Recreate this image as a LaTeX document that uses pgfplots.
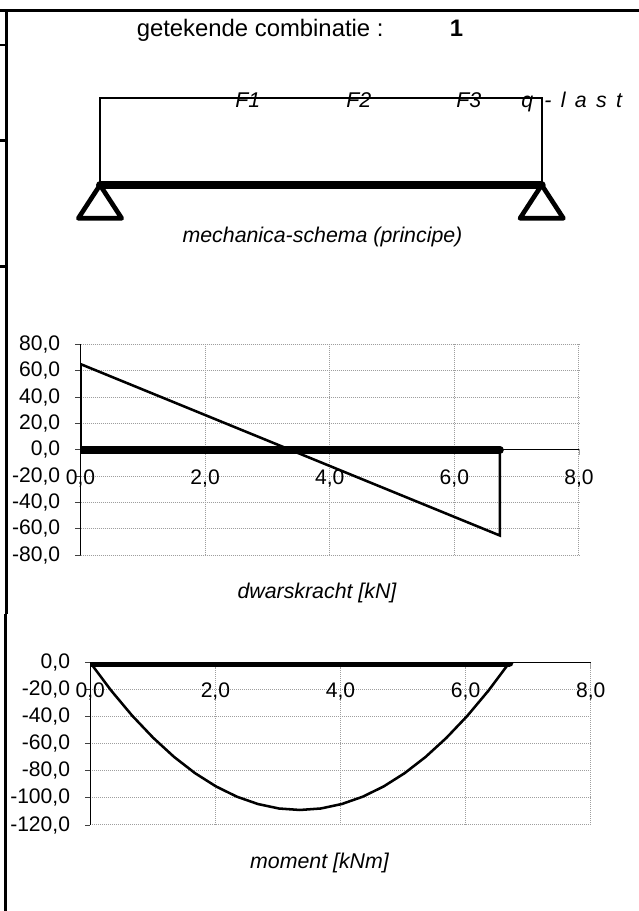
\documentclass[border=0pt]{standalone}
\usepackage{pgfplots}
\pgfplotsset{compat=1.18}
\usepackage{fontspec}
\setmainfont{Liberation Sans}
\definecolor{gridc}{gray}{0.62}
\newcommand{\lab}{\fontsize{16}{18}\selectfont}
\pgfplotsset{
  chart/.style={
    scale only axis, clip=true,
    axis x line=middle, axis y line=left,
    axis line style={black, line width=0.9pt, -},
    hide obscured x ticks=false, hide obscured y ticks=false,
    tick align=outside,
    major tick length=3.9pt,
    tick style={draw=black!75, line width=0.7pt},
    xtick style={draw=gridc, line width=0.7pt},
    grid=major,
    grid style={gridc, line width=0.75pt, dash pattern=on 0.75pt off 0.75pt},
    xtick={0,2,4,6,8},
    /pgf/number format/.cd, fixed, fixed zerofill, precision=1, use comma, assume math mode=true,
    /pgfplots/.cd,
    tick label style={font=\fontsize{15.8}{17}\selectfont},
    xticklabel style={anchor=north, yshift=-7.5pt},
    yticklabel style={anchor=east, xshift=-7.8pt},
  }
}
\begin{document}
\begin{tikzpicture}
\useasboundingbox (0pt,0pt) rectangle (479.25pt,683.25pt);
% full canvas in pixel coordinates: frame and mechanica schema
\begin{axis}[name=canvas, at={(0pt,0pt)}, anchor=south west,
  scale only axis, width=479.25pt, height=683.25pt,
  xmin=0, xmax=639, ymin=0, ymax=911, y dir=reverse,
  hide axis, clip=false]
\addplot[black, line width=2.25pt] coordinates {(0,10.8) (639,10.8)};
\addplot[black, line width=2.25pt] coordinates {(6.5,10) (6.5,614)};
\addplot[black, line width=2.25pt] coordinates {(5.8,614) (5.8,911)};
\addplot[black, line width=1.9pt] coordinates {(0,45.2) (6,45.2)};
\addplot[black, line width=1.9pt] coordinates {(0,140.3) (6,140.3)};
\addplot[black, line width=1.9pt] coordinates {(0,266.7) (6,266.7)};
% schema
\addplot[black, line width=1.5pt] coordinates {(100,185) (100,98) (541.7,98) (541.7,185)};
\addplot[black, line width=6pt, line cap=round] coordinates {(100,185.3) (541.7,185.3)};
\addplot[black, line width=3.5pt, line join=round, line cap=round] coordinates {(100,185) (78.3,218.3) (121.7,218.3) (100,185)};
\addplot[black, line width=3.5pt, line join=round, line cap=round] coordinates {(541.7,185) (520,218.3) (563.4,218.3) (541.7,185)};
\node[font=\fontsize{17.9}{20}\selectfont, anchor=base west, inner sep=0pt] at (axis cs:136.5,36.7) {getekende combinatie :};
\node[font=\fontsize{17.9}{20}\selectfont\bfseries, anchor=base west, inner sep=0pt] at (axis cs:449.5,36.7) {1};
\node[font=\lab\itshape, anchor=base west, inner sep=0pt] at (axis cs:235,107) {F1};
\node[font=\lab\itshape, anchor=base west, inner sep=0pt] at (axis cs:346,107) {F2};
\node[font=\lab\itshape, anchor=base west, inner sep=0pt] at (axis cs:456,107) {F3};
\node[font=\lab\itshape, anchor=base west, inner sep=0pt] at (axis cs:521,107) {q};
\node[font=\lab\itshape, anchor=base west, inner sep=0pt] at (axis cs:544,107) {\spaceskip=7.05pt - l a s t};
\node[font=\lab\itshape, anchor=base] at (axis cs:322.5,242.7) {mechanica-schema (principe)};
\node[font=\lab\itshape, anchor=base] at (axis cs:317,598) {dwarskracht [kN]};
\node[font=\lab\itshape, anchor=base] at (axis cs:319.5,868) {moment [kNm]};
\end{axis}
% shear diagram: x 80.5..579, y 344.3..555.3 px
\begin{axis}[chart, at={(60.375pt,266.775pt)}, anchor=south west,
  width=373.875pt, height=158.25pt,
  xmin=0, xmax=8, ymin=-80, ymax=80,
  ytick={-80,-60,...,80}]
\addplot[black, line width=1.9pt] coordinates {(0,0) (0,65) (6.73,-65) (6.73,0)};
\addplot[black, line width=6pt, line cap=round] coordinates {(0,0) (6.73,0)};
\end{axis}
% moment diagram: x 90.3..590.7, y 662.7..825 px
\begin{axis}[chart, at={(67.725pt,64.5pt)}, anchor=south west,
  width=375.3pt, height=121.75pt,
  xmin=0, xmax=8, ymin=-120, ymax=0,
  ytick={-120,-100,...,0}]
\addplot[black, line width=1.9pt] coordinates {(0,0) (0.335,-20.7) (0.67,-39.2) (1.005,-55.5) (1.34,-69.7) (1.675,-81.7) (2.01,-91.5) (2.345,-99.1) (2.68,-104.5) (3.015,-107.8) (3.35,-108.9) (3.685,-107.8) (4.02,-104.5) (4.355,-99.1) (4.69,-91.5) (5.025,-81.7) (5.36,-69.7) (5.695,-55.5) (6.03,-39.2) (6.365,-20.7) (6.7,0)};
\addplot[black, line width=6pt, line cap=round] coordinates {(0,0) (6.7,0)};
\end{axis}
\end{tikzpicture}
\end{document}
